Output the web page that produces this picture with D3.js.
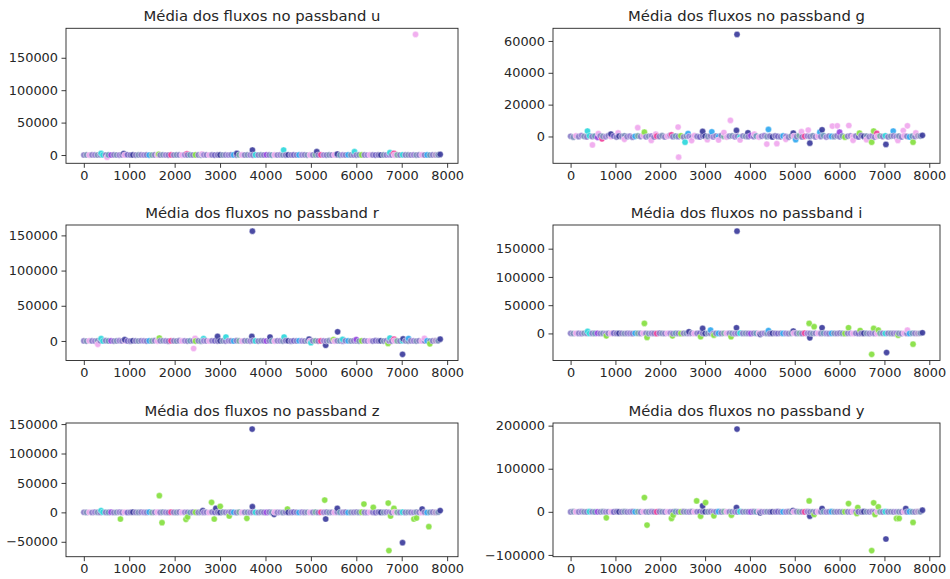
<!DOCTYPE html>
<html>
<head>
<meta charset="utf-8">
<script src="https://cdn.jsdelivr.net/npm/d3@7"></script>
<style>
  html, body { margin: 0; padding: 0; background: #fff; }
  svg { display: block; font-family: "DejaVu Sans", sans-serif; }
</style>
</head>
<body>
<svg id="chart" width="950" height="579"></svg>
<script>
// Mean flux per passband for every object, coloured by target class.
const passbands = ["u", "g", "r", "i", "z", "y"];
const classNames = ["6", "15", "16", "42", "52", "53", "62", "64", "65", "67", "88", "90", "92", "95"];
const classColors = ["#2ed8dc", "#f0409a", "#3c3c9c", "#7d90bc", "#7464c4", "#86e040", "#9c84d6",
                     "#b096cc", "#f0a8ee", "#6a98bc", "#30a8f0", "#8a7ec8", "#9848e0", "#78aaa8"];

// Objects along the main band: one every `sampleStep` rows of the table.
const sampleStep = 60;
const bandClass = [
  11,3,8,11,6,3,11,0,11,9,  12,11,3,6,11,8,4,11,2,11,
  3,11,6,11,10,13,11,8,11,3,  6,11,1,11,3,11,8,6,11,9,
  11,5,11,3,6,11,8,11,4,11,  2,3,11,6,11,10,11,13,8,11,
  3,6,11,0,11,3,11,12,11,9,  8,11,6,3,11,2,11,4,11,10,
  6,11,3,8,11,13,11,1,6,11,  3,11,8,11,9,6,11,10,3,11,
  11,3,5,11,6,8,11,4,11,2,  3,11,6,11,8,13,11,0,11,3,
  11,6,3,11,8,11,10,9,11,7,  3
];
const bandFluxU = [
  40,120,-60,210,80,15,300,95,-20,150,  60,240,30,-90,180,70,410,25,130,-40,
  90,260,55,140,-75,35,190,110,20,330,  75,-30,160,45,220,100,-50,280,65,140,
  30,190,85,-25,250,120,40,170,-65,95,  210,55,140,20,360,80,-45,150,105,35,
  180,70,-80,230,60,125,15,290,90,-35,  145,40,200,75,-55,310,50,165,25,120,
  85,260,-40,130,55,195,10,240,70,-60,  155,35,215,90,-25,175,60,280,45,110,
  -70,200,80,140,30,350,95,-35,185,65,  120,20,245,70,-50,160,40,300,85,130,
  55,190,-20,110,265,45,150,25,210,80,  160
];
const bandFluxG = [
  150,-420,380,-120,620,60,-300,450,-80,240,  -520,330,90,-210,510,-60,280,-380,170,40,
  420,-150,260,-460,120,350,-90,560,-240,80,  300,-330,190,-70,470,-280,130,640,-190,210,
  -110,390,-350,240,60,-450,520,20,-260,310,  180,-90,440,-310,270,-140,590,50,-400,160,
  360,-230,110,-520,290,70,-170,480,-60,220,  -380,140,520,-100,250,-290,400,30,-210,340,
  80,-440,310,190,-120,570,-330,120,260,-50,  430,-270,160,-80,500,-360,210,40,-150,380,
  -240,290,-420,130,460,-110,250,-300,580,20,  170,-190,350,-400,90,280,-60,440,-230,140,
  320,-120,230,-340,510,60,-280,190,-90,400,  250
];
const bandFluxR = [
  90,-200,310,40,-120,260,150,-60,380,20,  210,-150,120,350,-80,190,60,-240,280,110,
  -40,330,170,-190,240,80,400,-110,150,290,  60,-230,210,130,-70,360,20,270,-160,190,
  310,-90,140,-250,220,100,-30,340,170,-140,  250,40,-180,300,120,-60,410,80,-210,230,
  140,-110,360,20,-170,280,190,-40,320,60,  -200,240,110,-90,390,150,-250,180,50,300,
  120,-60,270,-190,210,340,-120,90,250,-30,  380,20,-160,230,100,-240,310,150,-80,270,
  60,-210,190,330,-50,140,-170,360,80,220,  -100,290,130,-220,250,40,-60,400,170,-130,
  230,90,-190,320,-40,180,260,-150,110,350,  200
];
const bandFluxI = [
  130,-160,280,70,-220,340,110,-90,250,30,  300,-130,170,-260,210,60,390,-70,160,240,
  -110,280,40,-200,350,130,-60,310,90,-170,  220,10,-240,370,150,-100,290,50,-180,330,
  80,-210,260,120,-50,410,-150,190,30,280,  -90,350,170,-230,240,70,-120,320,140,-40,
  270,-180,110,390,-60,200,40,-250,300,160,  20,-140,330,90,-210,260,180,-80,360,10,
  240,-190,120,300,-30,170,-260,380,60,210,  -150,290,140,-70,340,30,-200,250,110,-110,
  370,60,-170,230,150,-240,310,80,-50,280,  130,-220,400,40,-120,270,190,-160,330,70,
  -60,250,110,-210,360,20,-140,290,170,-80,  310
];
const bandFluxZ = [
  170,-120,230,-250,310,60,-180,390,100,-40,  260,-210,140,330,-90,200,-270,120,370,30,
  -150,290,80,-60,410,-190,160,240,-110,350,  50,-230,300,130,-80,380,-140,210,20,-260,
  330,100,-170,270,-30,190,-240,420,70,150,  -200,310,40,-120,250,160,-290,360,-50,220,
  120,-160,340,10,-220,280,90,-100,400,-180,  240,-60,170,-280,320,50,-130,260,140,-210,
  380,-40,200,-150,110,350,-250,180,30,290,  -120,230,-190,400,80,-70,310,-230,150,60,
  270,-110,340,-20,-200,190,120,-300,380,40,  -80,250,160,-240,300,90,-150,360,-30,210,
  140,-270,390,20,-100,280,-190,170,330,-60,  230
];
const bandFluxY = [
  -140,260,90,-230,380,20,-110,310,170,-300,  120,-60,340,-200,240,70,-270,410,40,-150,
  290,-180,130,360,-40,220,-250,170,90,-120,  380,-90,-210,260,150,-310,200,60,-170,340,
  30,-240,290,110,-130,390,-60,180,-280,250,  160,-30,320,-190,80,270,-140,420,10,-230,
  210,130,-260,350,-80,190,40,-200,300,-50,  370,-160,100,240,-290,150,-20,330,-180,60,
  -110,280,-230,190,400,-70,130,-250,260,90,  20,-190,350,-40,230,-300,160,310,-120,50,
  240,-270,180,80,-150,360,-90,210,-210,290,  110,-40,390,-260,140,60,-180,320,-20,200,
  -230,170,50,-110,300,-160,250,90,-280,380,  -70
];

// Objects away from the band: [row index, mean flux, class index]
const outliersU = [
  [381, 2500, 0], [512, -3300, 8], [879, 2200, 2], [1650, 1200, 5], [2271, 1800, 1],
  [2600, 1500, 8], [3370, 2400, 2], [3712, 7700, 2], [4400, 7700, 0], [5130, 5100, 2],
  [5582, 1500, 2], [5960, 5100, 0], [6740, 3600, 0], [6828, 2600, 1], [7304, 186000, 8],
  [7847, 1000, 2]
];
const outliersG = [
  [376, 3400, 0], [487, -5300, 8], [620, 1800, 8], [700, -1500, 1], [900, 1500, 2],
  [1060, 2200, 8], [1200, -1800, 8], [1498, 5500, 8], [1646, 2700, 5], [1800, -2500, 8],
  [1900, 1500, 8], [2250, 1000, 1], [2398, 5900, 8], [2410, -13000, 8], [2553, -3600, 0],
  [2620, 1800, 10], [2700, -2600, 8], [2945, 3200, 2], [3050, -2000, 8], [3150, 2900, 10],
  [3300, -2200, 8], [3420, 2500, 8], [3565, 10100, 8], [3712, 64100, 2], [3700, 3800, 2],
  [3780, -2200, 8], [3956, 2300, 2], [4100, 1500, 8], [4376, -4800, 8], [4413, 4400, 10],
  [4600, -4500, 8], [4800, -1800, 8], [4967, 2100, 2], [5020, -2000, 10], [5150, 3000, 8],
  [5300, 4000, 8], [5336, -4200, 2], [5560, 2700, 10], [5609, 4200, 2], [5838, 6500, 8],
  [5948, 6700, 8], [6000, 2700, 12], [6206, 6900, 8], [6300, -2400, 8], [6443, 2100, 5],
  [6600, -2000, 8], [6716, -3600, 5], [6760, 3400, 5], [6830, 2000, 1], [7033, -5000, 2],
  [7196, 3400, 10], [7300, -2500, 8], [7420, 3700, 8], [7513, 6700, 8], [7638, -3600, 5],
  [7700, 2200, 8], [7847, 700, 2]
];
const outliersR = [
  [308, -4700, 8], [381, 3300, 0], [900, 1800, 2], [1663, 4200, 5], [2418, -10700, 8],
  [2450, 3600, 8], [2637, 3300, 0], [2945, 6500, 2], [3130, 5600, 0], [3712, 156000, 2],
  [3700, 6500, 2], [4100, 5600, 2], [4410, 5600, 0], [4960, 2500, 2], [5000, -2500, 0],
  [5326, -6100, 2], [5500, 2000, 5], [5589, 13000, 2], [5700, 2300, 0], [6000, 2000, 12],
  [6700, -3500, 5], [6740, 4200, 0], [6830, 2500, 1], [7018, -19000, 2], [7030, 3000, 2],
  [7150, 3500, 10], [7500, 3800, 8], [7620, -4000, 5], [7847, 2600, 2]
];
const outliersI = [
  [380, 3500, 0], [797, -4200, 5], [1646, 17800, 5], [1705, -7100, 5], [2273, -4200, 5],
  [2640, 3000, 2], [2900, -5900, 5], [2945, 8900, 2], [3122, 5900, 10], [3196, -3000, 5],
  [3579, -5900, 5], [3712, 181000, 2], [3700, 10000, 2], [4230, -1500, 2], [4413, 5000, 10],
  [4967, 4200, 2], [5321, 17800, 5], [5336, -7700, 2], [5432, 11900, 5], [5609, 10100, 2],
  [6199, 10100, 5], [6458, 5200, 5], [6716, -37000, 5], [6760, 8900, 5], [6863, 5900, 5],
  [7048, -33800, 2], [7306, -3000, 5], [7513, 5900, 8], [7638, -19000, 5], [7847, 1200, 2]
];
const outliersZ = [
  [380, 3000, 0], [806, -11300, 5], [1663, 28300, 5], [1722, -17500, 5], [2249, -11900, 5],
  [2286, -7900, 5], [2620, 2800, 2], [2813, 17000, 5], [2872, -11300, 5], [2908, 6800, 2],
  [3004, 10200, 5], [3202, -6200, 5], [3590, -10200, 5], [3707, 141500, 2], [3712, 9600, 2],
  [4190, -3400, 2], [4484, 5700, 5], [5304, 20900, 5], [5326, -11300, 2], [5582, 6800, 2],
  [6168, 14100, 5], [6374, 8500, 5], [6718, -65000, 5], [6703, 15800, 5], [6755, -6200, 5],
  [6828, 6800, 5], [7018, -51500, 2], [7267, -11300, 5], [7326, -9600, 5], [7450, 5700, 2],
  [7597, -24300, 5], [7847, 3000, 2]
];
const outliersY = [
  [797, -13800, 5], [1646, 33100, 5], [1705, -30800, 5], [2251, -15400, 5], [2288, -7700, 5],
  [2812, 25400, 5], [2900, -10000, 5], [2945, 13800, 2], [3011, 21500, 5], [3196, -9200, 5],
  [3587, -7700, 5], [3712, 192000, 2], [3700, 10000, 2], [4229, -2300, 2], [4960, 3000, 2],
  [5321, 25400, 5], [5336, -10000, 2], [5432, -6200, 5], [5609, 7700, 2], [6199, 19200, 5],
  [6384, -3800, 5], [6406, 10000, 5], [6716, -90000, 5], [6760, 20800, 5], [6790, -6200, 5],
  [6863, 11500, 5], [7033, -63000, 2], [7269, -15400, 5], [7328, -15400, 5], [7476, 7700, 2],
  [7638, -24600, 5], [7847, 3800, 2]
];

// Tick values
const xTicks = [0, 1000, 2000, 3000, 4000, 5000, 6000, 7000, 8000];
const yTicksU = [0, 50000, 100000, 150000];
const yTicksG = [0, 20000, 40000, 60000];
const yTicksR = [0, 50000, 100000, 150000];
const yTicksI = [0, 50000, 100000, 150000];
const yTicksZ = [-50000, 0, 50000, 100000, 150000];
const yTicksY = [-100000, 0, 100000, 200000];

const bandFlux = [bandFluxU, bandFluxG, bandFluxR, bandFluxI, bandFluxZ, bandFluxY];
const outliers = [outliersU, outliersG, outliersR, outliersI, outliersZ, outliersY];
const yTicks = [yTicksU, yTicksG, yTicksR, yTicksI, yTicksZ, yTicksY];

// Subplot frames (two columns, three rows)
const colSpan = [[66, 458], [553, 940]];
const rowSpan = [[28.3, 163.3], [225, 360.5], [423, 556.7]];

const ink = "#262626";
const svg = d3.select("#chart");

function padded([a, b]) {
  const m = (b - a) * 0.05;
  return [a - m, b + m];
}

passbands.forEach((pb, k) => {
  const [x0, x1] = colSpan[k % 2];
  const [y0, y1] = rowSpan[Math.floor(k / 2)];

  const points = bandFlux[k].map((v, i) => ({ idx: i * sampleStep, flux: v, cls: bandClass[i] }))
    .concat(outliers[k].map(([idx, flux, cls]) => ({ idx, flux, cls })))
    .sort((a, b) => a.idx - b.idx);

  const x = d3.scaleLinear().domain(padded(d3.extent(points, d => d.idx))).range([x0, x1]);
  const y = d3.scaleLinear().domain(padded(d3.extent(points, d => d.flux))).range([y1, y0]);

  const g = svg.append("g").attr("class", "panel-" + pb);

  g.append("g")
    .selectAll("circle")
    .data(points)
    .join("circle")
    .attr("cx", d => x(d.idx))
    .attr("cy", d => y(d.flux))
    .attr("r", 3.1)
    .attr("fill", d => classColors[d.cls])
    .attr("fill-opacity", 0.92)
    .attr("stroke", "#fff")
    .attr("stroke-width", 0.4);

  const fmt = d3.format("d");

  const xAxis = g.append("g")
    .attr("transform", `translate(0,${y1})`)
    .call(d3.axisBottom(x).tickValues(xTicks).tickFormat(fmt).tickSize(4.5).tickPadding(3));
  const yAxis = g.append("g")
    .attr("transform", `translate(${x0},0)`)
    .call(d3.axisLeft(y).tickValues(yTicks[k]).tickFormat(fmt).tickSize(4.5).tickPadding(3.5));

  [xAxis, yAxis].forEach(ax => {
    ax.select(".domain").remove();
    ax.selectAll(".tick line").attr("stroke", ink).attr("stroke-width", 0.9);
    ax.selectAll(".tick text")
      .attr("fill", ink)
      .style("font-family", '"DejaVu Sans", sans-serif')
      .style("font-size", "12.9px");
  });

  g.append("rect")
    .attr("x", x0).attr("y", y0)
    .attr("width", x1 - x0).attr("height", y1 - y0)
    .attr("fill", "none")
    .attr("stroke", ink)
    .attr("stroke-width", 0.9);

  g.append("text")
    .attr("x", (x0 + x1) / 2)
    .attr("y", y0 - 7.5)
    .attr("text-anchor", "middle")
    .attr("fill", ink)
    .style("font-size", "14.8px")
    .text(`Média dos fluxos no passband ${pb}`);
});
</script>
</body>
</html>
